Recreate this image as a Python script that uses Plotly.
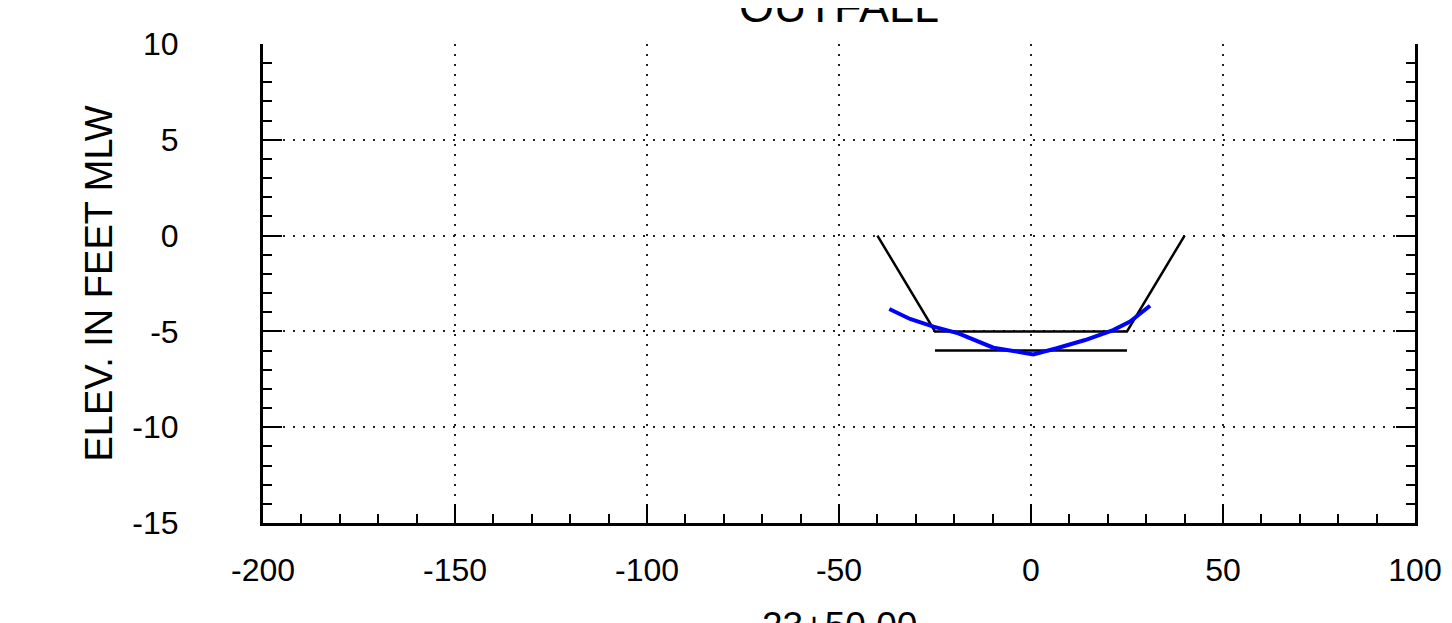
import plotly.graph_objects as go

# design channel template (station offset, elevation)
channel_x = [-40, -25, 25, 40]
channel_y = [0, -5, -5, 0]

# allowable overdepth line
overdepth_x = [-25, 25]
overdepth_y = [-6, -6]

# surveyed bottom profile
survey_x = [-36.9, -31.5, -25.4, -18.9, -9.8, 0.6, 6.7, 14.1, 21.4, 25.8, 31.0]
survey_y = [-3.83, -4.35, -4.75, -5.10, -5.85, -6.20, -5.88, -5.45, -4.93, -4.49, -3.66]

x_ticks = [-200, -150, -100, -50, 0, 50, 100]
y_ticks = [-15, -10, -5, 0, 5, 10]

font = "Liberation Sans, Arial, sans-serif"

fig = go.Figure()
fig.add_trace(go.Scatter(x=channel_x, y=channel_y, mode="lines",
                         line=dict(color="black", width=2.5), showlegend=False))
fig.add_trace(go.Scatter(x=overdepth_x, y=overdepth_y, mode="lines",
                         line=dict(color="black", width=2.5), showlegend=False))
fig.add_trace(go.Scatter(x=survey_x, y=survey_y, mode="lines",
                         line=dict(color="#0000ff", width=4), showlegend=False))

# page body adds ~8px, so the figure is 8px smaller and margins shifted
fig.update_layout(
    width=1444, height=615,
    margin=dict(l=255, r=37, t=36, b=100, autoexpand=False),
    plot_bgcolor="white", paper_bgcolor="white",
    font=dict(family=font, color="black", size=32),
    annotations=[
        dict(text="OUTFALL", xref="paper", yref="paper", x=0.5, y=1,
             xanchor="center", yanchor="bottom", yshift=10, showarrow=False,
             font=dict(size=45, family=font, color="black")),
        dict(text="23+50.00", xref="paper", yref="paper", x=0.5, y=0,
             xanchor="center", yanchor="top", yshift=-80, showarrow=False,
             font=dict(size=37, family=font, color="black")),
        dict(text="ELEV. IN FEET MLW", xref="paper", yref="paper", x=0, y=0.5,
             xanchor="center", yanchor="middle", xshift=-165, textangle=-90,
             showarrow=False, font=dict(size=38, family=font, color="black")),
    ],
)

fig.update_xaxes(
    range=[-200, 100], tickvals=x_ticks, ticktext=[str(v) for v in x_ticks],
    ticks="inside", ticklen=19, tickwidth=2, tickcolor="black",
    showline=True, linewidth=3, linecolor="black", mirror=False,
    showgrid=True, gridcolor="#222", gridwidth=1.5, griddash="2px,8px",
    zeroline=False, ticklabelstandoff=17, automargin=False,
    minor=dict(dtick=10, tick0=0, ticks="inside", ticklen=9, tickwidth=2,
               tickcolor="black", showgrid=False),
)
fig.update_yaxes(
    range=[-15, 10], tickvals=y_ticks, ticktext=[str(v) for v in y_ticks],
    ticks="inside", ticklen=19, tickwidth=2, tickcolor="black",
    showline=True, linewidth=3, linecolor="black", mirror="ticks",
    showgrid=True, gridcolor="#222", gridwidth=1.5, griddash="2px,8px",
    zeroline=False, ticklabelstandoff=75, automargin=False,
    minor=dict(dtick=1, tick0=0, ticks="inside", ticklen=9, tickwidth=2,
               tickcolor="black", showgrid=False),
)

fig.write_html("out.html")
